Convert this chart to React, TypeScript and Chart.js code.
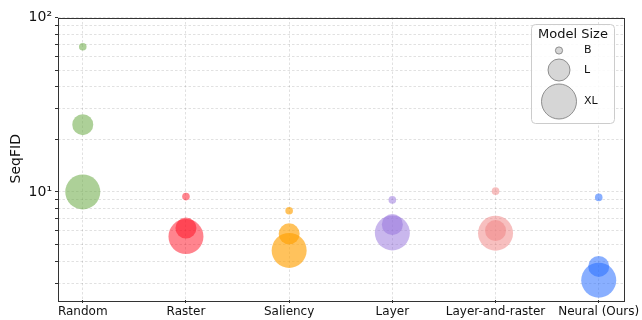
import React, { useEffect, useRef } from "react";
import { Chart, registerables } from "chart.js";

Chart.register(...registerables);

// Methods compared, in axis order
const METHODS = ["Random", "Raster", "Saliency", "Layer", "Layer-and-raster", "Neural (Ours)"];
// Model sizes shown in the legend
const SIZES = ["B", "L", "XL"];
// SeqFID per method, one array per model size
const FID_B = [68, 9.4, 7.8, 9.0, 10.1, 9.3];
const FID_L = [24.3, 6.2, 5.75, 6.5, 6.0, 3.74];
const FID_XL = [10.0, 5.55, 4.62, 5.82, 5.8, 3.12];
// Log-axis tick values; only the decades carry a label
const Y_TICKS = [3, 4, 5, 6, 7, 8, 9, 10, 20, 30, 40, 50, 60, 70, 80, 90, 100];
const Y_LABELS: Record<number, string> = { 10: "10\u00b9", 100: "10\u00b2" };

const COLORS = [
  "rgba(106,170,68,0.55)",
  "rgba(255,10,30,0.5)",
  "rgba(255,160,0,0.64)",
  "rgba(147,112,219,0.5)",
  "rgba(240,128,128,0.5)",
  "rgba(40,110,255,0.55)",
];
const RADIUS: Record<string, number> = { B: 3.8, L: 10.5, XL: 17.5 };
const LEGEND_RADIUS: Record<string, number> = { B: 3.6, L: 11, XL: 17.5 };
const FONT = "'DejaVu Sans', sans-serif";

const frameAndLegend = {
  id: "frameAndLegend",
  afterDraw(chart: any) {
    const { ctx, chartArea } = chart;
    ctx.save();
    // axes frame
    ctx.strokeStyle = "#333";
    ctx.lineWidth = 1;
    ctx.strokeRect(
      Math.round(chartArea.left) + 0.5,
      Math.round(chartArea.top) + 0.5,
      Math.round(chartArea.right - chartArea.left),
      Math.round(chartArea.bottom - chartArea.top)
    );
    // model size legend
    const bx = 531.5, by = 24.5, bw = 83, bh = 99, rr = 4;
    ctx.beginPath();
    ctx.moveTo(bx + rr, by);
    ctx.arcTo(bx + bw, by, bx + bw, by + bh, rr);
    ctx.arcTo(bx + bw, by + bh, bx, by + bh, rr);
    ctx.arcTo(bx, by + bh, bx, by, rr);
    ctx.arcTo(bx, by, bx + bw, by, rr);
    ctx.closePath();
    ctx.fillStyle = "rgba(255,255,255,0.85)";
    ctx.fill();
    ctx.strokeStyle = "#cccccc";
    ctx.stroke();
    ctx.fillStyle = "#111";
    ctx.textAlign = "center";
    ctx.textBaseline = "middle";
    ctx.font = `13px ${FONT}`;
    ctx.fillText("Model Size", bx + bw / 2, by + 10);
    const rowsY = [50.5, 70, 101.5];
    SIZES.forEach((s, i) => {
      ctx.beginPath();
      ctx.arc(559, rowsY[i], LEGEND_RADIUS[s], 0, Math.PI * 2);
      ctx.fillStyle = "#d6d6d6";
      ctx.fill();
      ctx.strokeStyle = "#777";
      ctx.lineWidth = 0.8;
      ctx.stroke();
      ctx.fillStyle = "#111";
      ctx.font = `11px ${FONT}`;
      ctx.textAlign = "left";
      ctx.fillText(s, 584, rowsY[i]);
    });
    ctx.restore();
  },
};

export default function App() {
  const canvasRef = useRef<HTMLCanvasElement | null>(null);

  useEffect(() => {
    document.body.style.margin = "0";
    const canvas = canvasRef.current;
    if (!canvas) return;

    const datasets = METHODS.map((m, i) => ({
      label: m,
      data: [
        { x: i, y: FID_XL[i], r: RADIUS.XL },
        { x: i, y: FID_L[i], r: RADIUS.L },
        { x: i, y: FID_B[i], r: RADIUS.B },
      ],
      backgroundColor: COLORS[i],
      borderWidth: 0,
      hoverBorderWidth: 0,
    }));

    const grid = {
      color: "rgba(0,0,0,0.15)",
      lineWidth: 0.8,
      tickColor: "#333",
      tickBorderDash: [],
      tickLength: 3,
      tickWidth: 1,
    };
    // dashed grid lines; the axis lines themselves come from the frame
    const border = { display: false, dash: [2.5, 2] };

    const chart = new Chart(canvas, {
      type: "bubble",
      data: { datasets },
      options: {
        animation: false,
        responsive: false,
        events: [],
        layout: { padding: { left: 0, right: 17, top: 17, bottom: 0 } },
        plugins: { legend: { display: false }, tooltip: { enabled: false } },
        scales: {
          x: {
            type: "linear",
            min: -0.24,
            max: 5.24,
            grid,
            border,
            afterBuildTicks: (scale: any) => {
              scale.ticks = METHODS.map((_, i) => ({ value: i }));
            },
            afterFit: (scale: any) => {
              scale.height = 20;
            },
            ticks: {
              color: "#111",
              padding: 2,
              maxRotation: 0,
              autoSkip: false,
              font: { family: FONT, size: 12 },
              callback: (v: any) => METHODS[v] ?? "",
            },
          },
          y: {
            type: "logarithmic",
            min: 2.4,
            max: 100,
            grid,
            border,
            afterBuildTicks: (scale: any) => {
              scale.ticks = Y_TICKS.map((v) => ({ value: v, major: v in Y_LABELS }));
            },
            afterFit: (scale: any) => {
              scale.width = 58;
            },
            title: {
              display: true,
              text: "SeqFID",
              color: "#111",
              font: { family: FONT, size: 14 },
              padding: { top: 8, bottom: 0 },
            },
            ticks: {
              color: "#111",
              padding: 3,
              autoSkip: false,
              font: { family: FONT, size: 14 },
              callback: (v: any) => Y_LABELS[v] ?? "",
            },
          },
        },
      },
      plugins: [frameAndLegend],
    });

    return () => chart.destroy();
  }, []);

  return (
    <div style={{ position: "absolute", left: 0, top: 0, width: 642, height: 320 }}>
      <canvas ref={canvasRef} width={642} height={320} />
    </div>
  );
}
